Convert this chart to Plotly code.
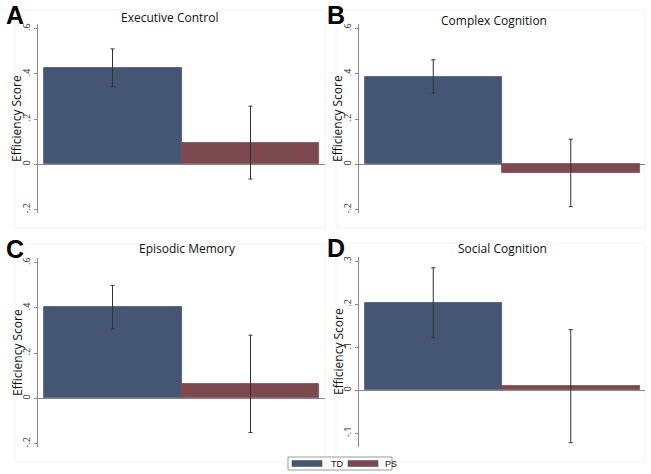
import plotly.graph_objects as go

groups = ["TD", "PS"]
panels = ["Executive Control", "Complex Cognition", "Episodic Memory", "Social Cognition"]
letters = ["A", "B", "C", "D"]
# bar values (TD, PS) per panel
values = [[0.425, 0.096], [0.388, -0.039], [0.403, 0.063], [0.203, 0.010]]
ci_high = [[0.510, 0.257], [0.462, 0.111], [0.499, 0.279], [0.285, 0.141]]
ci_low = [[0.343, -0.065], [0.314, -0.187], [0.307, -0.151], [0.122, -0.122]]
tick_vals = [[-0.2, 0, 0.2, 0.4, 0.6]] * 3 + [[-0.1, 0, 0.1, 0.2, 0.3]]
tick_text = [["-.2", "0", ".2", ".4", ".6"]] * 3 + [["-.1", "0", ".1", ".2", ".3"]]
y_ranges = [[-0.215, 0.62], [-0.215, 0.62], [-0.215, 0.62], [-0.132, 0.31]]
y_title = "Efficiency Score"

colors = ["#455675", "#7d4951"]
W, H = 651, 474

# panel geometry in pixels: (x0, x1, ytop, ybottom)
geom = [(38, 325, 24, 213), (359, 645, 24, 213), (38, 325, 258, 447), (359, 645, 257, 447)]
title_pos = [(170, 17), (494, 20), (187, 248), (502, 248)]

fig = go.Figure()
layout = dict(width=W, height=H, margin=dict(l=0, r=0, t=0, b=0),
              paper_bgcolor="white", plot_bgcolor="white", showlegend=False,
              barmode="overlay", bargap=0)
annotations = []
shapes = []

for i in range(4):
    xa = "x" if i == 0 else f"x{i+1}"
    ya = "y" if i == 0 else f"y{i+1}"
    for g in range(2):
        v = values[i][g]
        fig.add_trace(go.Bar(
            x=[g], y=[v], width=1, xaxis=xa, yaxis=ya,
            marker=dict(color=colors[g], line=dict(color=colors[g], width=0.8)),
            error_y=dict(type="data", symmetric=False,
                         array=[ci_high[i][g] - v], arrayminus=[v - ci_low[i][g]],
                         color="#333333", thickness=1, width=2),
            name=groups[g]))
    x0, x1, yt, yb = geom[i]
    xkey = "xaxis" if i == 0 else f"xaxis{i+1}"
    ykey = "yaxis" if i == 0 else f"yaxis{i+1}"
    layout[xkey] = dict(domain=[x0 / W, x1 / W], range=[-0.54, 1.54], visible=False,
                        anchor=ya, fixedrange=True)
    layout[ykey] = dict(domain=[1 - yb / H, 1 - yt / H], range=y_ranges[i], anchor=xa,
                        showline=True, linecolor="#8a8a8a", linewidth=1,
                        ticks="outside", ticklen=3, tickcolor="#8a8a8a",
                        tickvals=tick_vals[i], ticktext=tick_text[i], tickangle=-90,
                        tickfont=dict(family="Open Sans", size=9, color="#333333"),
                        showgrid=False, zeroline=True, zerolinecolor="#8a8a8a",
                        zerolinewidth=1)
    # y axis title
    annotations.append(dict(text=y_title, x=(x0 - 21) / W, y=1 - (yt + 95) / H,
                            xref="paper", yref="paper", showarrow=False, textangle=-90,
                            xanchor="center", yanchor="middle",
                            font=dict(family="Open Sans", size=12, color="#111111")))
    # panel title
    tx, ty = title_pos[i]
    annotations.append(dict(text=panels[i], x=tx / W, y=1 - ty / H,
                            xref="paper", yref="paper", showarrow=False,
                            xanchor="center", yanchor="middle",
                            font=dict(family="Open Sans", size=12, color="#111111")))
    # panel letter
    lx = 4 if x0 < 100 else 325
    annotations.append(dict(text=f"<b>{letters[i]}</b>", x=lx / W, y=1 - (yt - 9) / H,
                            xref="paper", yref="paper", showarrow=False,
                            xanchor="left", yanchor="middle",
                            font=dict(family="Liberation Sans", size=25, color="#000000")))
    # faint plot region border
    shapes.append(dict(type="rect", xref="paper", yref="paper",
                       x0=(x0 - 23) / W, x1=(x1) / W, y0=1 - (yb + 15) / H, y1=1 - (yt - 14) / H,
                       line=dict(color="#f3f3f3", width=1), layer="below"))

# legend
lx0, ly0, lx1, ly1 = 288, 457, 392, 470
shapes.append(dict(type="rect", xref="paper", yref="paper",
                   x0=lx0 / W, x1=lx1 / W, y0=1 - ly1 / H, y1=1 - ly0 / H,
                   line=dict(color="#999999", width=1), fillcolor="white"))
sw = [(292, 322, 329), (348, 378, 383)]
for g in range(2):
    a, b, t = sw[g]
    shapes.append(dict(type="rect", xref="paper", yref="paper",
                       x0=a / W, x1=b / W, y0=1 - 466.5 / H, y1=1 - 460.5 / H,
                       line=dict(color="#555555", width=0.6), fillcolor=colors[g]))
    annotations.append(dict(text=groups[g], x=t / W, y=1 - 463.5 / H, xref="paper", yref="paper",
                            showarrow=False, xanchor="left", yanchor="middle",
                            font=dict(family="Liberation Sans", size=9, color="#111111")))

layout["annotations"] = annotations
layout["shapes"] = shapes
fig.update_layout(**layout)
fig.write_html("out.html", config={"displayModeBar": False},
               post_script="document.body.style.margin='0';document.body.style.overflow='hidden';")
